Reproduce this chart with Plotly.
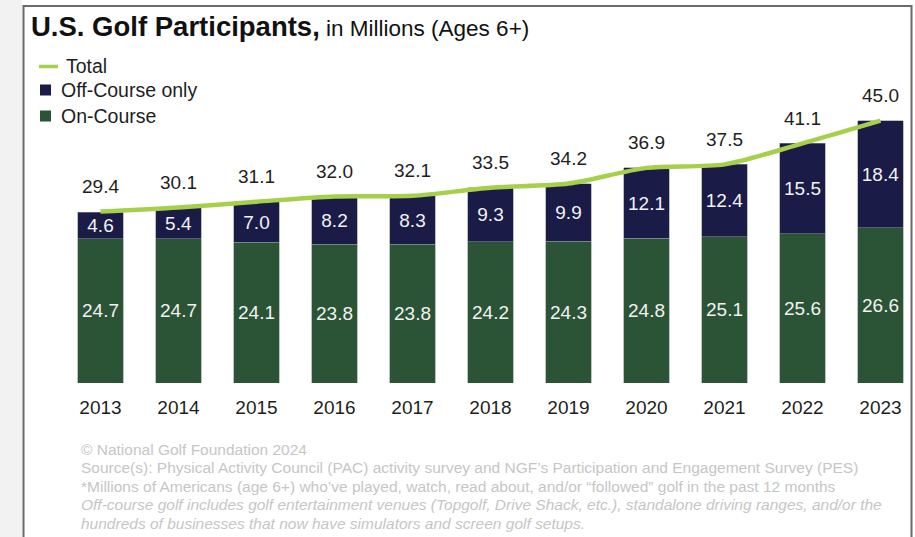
import plotly.graph_objects as go

# U.S. golf participants (millions, ages 6+)
years = ["2013", "2014", "2015", "2016", "2017", "2018", "2019", "2020", "2021", "2022", "2023"]
on_course = [24.7, 24.7, 24.1, 23.8, 23.8, 24.2, 24.3, 24.8, 25.1, 25.6, 26.6]
off_course = [4.6, 5.4, 7.0, 8.2, 8.3, 9.3, 9.9, 12.1, 12.4, 15.5, 18.4]
total = [29.4, 30.1, 31.1, 32.0, 32.1, 33.5, 34.2, 36.9, 37.5, 41.1, 45.0]

notes = [
    "© National Golf Foundation 2024",
    "Source(s): Physical Activity Council (PAC) activity survey and NGF’s Participation and Engagement Survey (PES)",
    "*Millions of Americans (age 6+) who’ve played, watch, read about, and/or “followed” golf in the past 12 months",
    "<i>Off-course golf includes golf entertainment venues (Topgolf, Drive Shack, etc.), standalone driving ranges, and/or the</i>",
    "<i>hundreds of businesses that now have simulators and screen golf setups.</i>",
]

W, H = 915, 537
ML, MR, MT, MB = 40, 5, 60, 154
PLOT_W = W - ML - MR
PLOT_H = H - MT - MB
STEP = 78.0            # px per category
FIRST_CENTER = 100.5   # px of first category centre
Y_MAX = 55.4

x_idx = list(range(len(years)))

GREEN = "#2b5336"
NAVY = "#1a1b47"
LIME = "#a6d04b"
FONT = "Liberation Sans, Arial, sans-serif"


def px_x(p):
    return (p - ML) / PLOT_W


def px_y(p):
    return (H - MB - p) / PLOT_H


fig = go.Figure()

fig.add_trace(go.Bar(
    x=x_idx, y=on_course, name="On-Course",
    marker=dict(color=GREEN, line=dict(color="rgba(140,150,140,0.7)", width=0.8)),
    width=0.58,
    text=[f"{v:.1f}" for v in on_course], textposition="inside",
    insidetextanchor="middle", textangle=0, constraintext="none",
    textfont=dict(family=FONT, size=19, color="#f2f2f2"),
    hoverinfo="skip",
))
fig.add_trace(go.Bar(
    x=x_idx, y=off_course, name="Off-Course only",
    marker=dict(color=NAVY, line=dict(color="rgba(140,140,160,0.7)", width=0.8)),
    width=0.58,
    text=[f"{v:.1f}" for v in off_course], textposition="inside",
    insidetextanchor="middle", textangle=0, constraintext="none",
    textfont=dict(family=FONT, size=19, color="#f2f2f2"),
    hoverinfo="skip",
))
fig.add_trace(go.Scatter(
    x=x_idx, y=total, name="Total", mode="lines",
    line=dict(color=LIME, width=4.5, shape="spline", smoothing=0.8),
    hoverinfo="skip",
))

# total labels above each stack
for i, t in enumerate(total):
    fig.add_annotation(
        x=i, y=t, xref="x", yref="y", text=f"{t:.1f}", showarrow=False,
        yshift=25, font=dict(family=FONT, size=19, color="#1e1e1e"),
        xanchor="center", yanchor="middle",
    )

# title
fig.add_annotation(
    xref="paper", yref="paper", x=px_x(29), y=px_y(27),
    xanchor="left", yanchor="middle", showarrow=False,
    text="<b>U.S. Golf Participants,</b><span style='font-size:22.5px'> in Millions (Ages 6+)</span>",
    font=dict(family=FONT, size=27.5, color="#111111"),
)

# legend, drawn as small marks with labels
fig.add_shape(type="line", xref="paper", yref="paper",
              x0=px_x(39), x1=px_x(58), y0=px_y(66.5), y1=px_y(66.5),
              line=dict(color=LIME, width=3.5))
legend_rows = [("Off-Course only", NAVY, 90), ("On-Course", GREEN, 116)]
for label, col, yc in legend_rows:
    fig.add_shape(type="rect", xref="paper", yref="paper",
                  x0=px_x(40), x1=px_x(51), y0=px_y(yc - 5.5), y1=px_y(yc + 5.5),
                  fillcolor=col, line=dict(width=0))
legend_labels = [("Total", 64, 66), ("Off-Course only", 59, 90), ("On-Course", 59, 116)]
for label, xl, yc in legend_labels:
    fig.add_annotation(
        xref="paper", yref="paper", x=px_x(xl), y=px_y(yc),
        xanchor="left", yanchor="middle", showarrow=False, text=label,
        font=dict(family=FONT, size=19.5, color="#1e1e1e"),
    )

# footnotes, one line each
note_rows = [449, 467.5, 486, 504.5, 523]
for line, yc in zip(notes, note_rows):
    fig.add_annotation(
        xref="paper", yref="paper", x=px_x(79), y=px_y(yc),
        xanchor="left", yanchor="middle", showarrow=False, align="left",
        text=line, font=dict(family=FONT, size=15.5, color="#c6c6c6"),
    )

# page frame: grey strip on the left and the boxed panel border
fig.add_shape(type="rect", xref="paper", yref="paper", layer="below",
              x0=px_x(-5), x1=px_x(22), y0=px_y(-5), y1=px_y(545),
              fillcolor="#f2f2f2", line=dict(width=0))
fig.add_shape(type="rect", xref="paper", yref="paper", layer="above",
              x0=px_x(23.5), x1=px_x(911.5), y0=px_y(6), y1=px_y(560),
              fillcolor="rgba(0,0,0,0)", line=dict(color="#6a6a6a", width=2))

fig.update_layout(
    width=W, height=H, autosize=False,
    margin=dict(l=ML, r=MR, t=MT, b=MB, pad=0),
    paper_bgcolor="white", plot_bgcolor="white",
    barmode="stack", bargap=0.42,
    showlegend=False,
    xaxis=dict(
        range=[-(FIRST_CENTER - ML) / STEP, -(FIRST_CENTER - ML) / STEP + PLOT_W / STEP],
        tickmode="array", tickvals=x_idx, ticktext=years,
        tickfont=dict(family=FONT, size=19, color="#1e1e1e"),
        showgrid=False, zeroline=False, showline=False, ticks="",
        ticklabelstandoff=11, fixedrange=True,
    ),
    yaxis=dict(range=[0, Y_MAX], visible=False, showgrid=False, fixedrange=True),
    uniformtext=dict(minsize=19, mode="show"),
)

fig.write_html("out.html")
